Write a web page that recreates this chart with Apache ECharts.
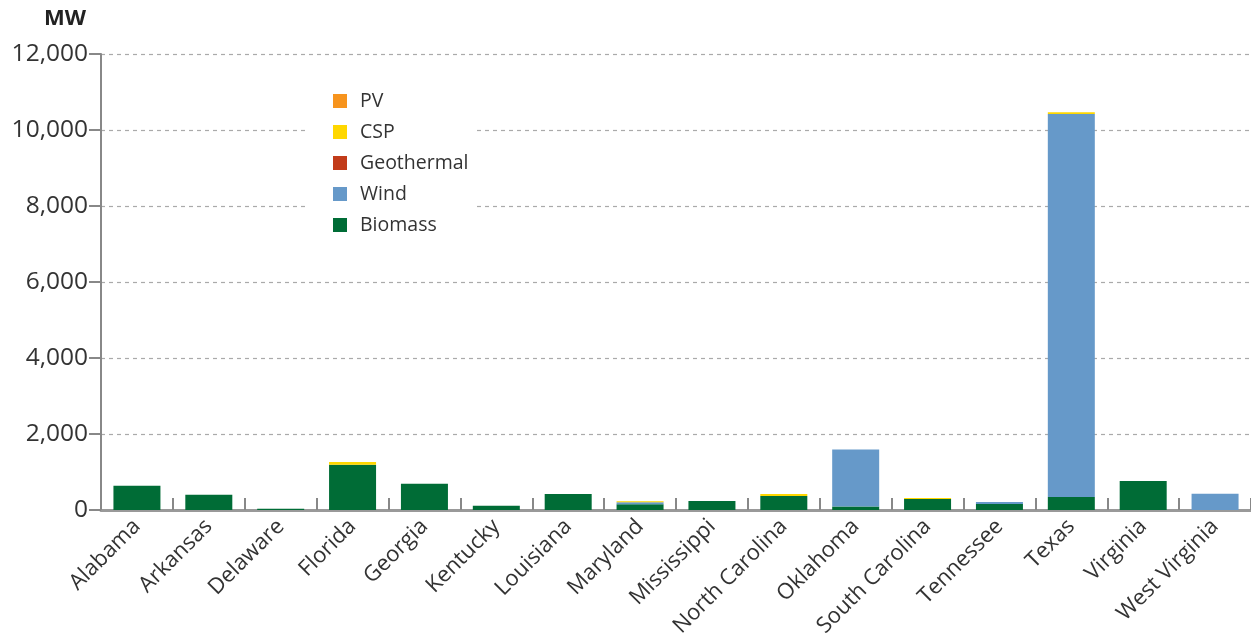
<!DOCTYPE html>
<html>
<head>
<meta charset="utf-8">
<script src="https://cdn.jsdelivr.net/npm/echarts@6/dist/echarts.min.js"></script>
<style>
html,body{margin:0;padding:0;background:#fff;}
#chart{width:1251px;height:643px;}
</style>
</head>
<body>
<div id="chart"></div>
<script>
const categories = ["Alabama","Arkansas","Delaware","Florida","Georgia","Kentucky","Louisiana","Maryland","Mississippi","North Carolina","Oklahoma","South Carolina","Tennessee","Texas","Virginia","West Virginia"];
const biomass    = [640, 400, 30, 1190, 690, 110, 420, 150, 240, 370, 90, 290, 160, 340, 765, 0];
const wind       = [0, 0, 0, 0, 0, 0, 0, 55, 0, 0, 1500, 0, 50, 10080, 0, 425];
const geothermal = [0, 0, 0, 0, 0, 0, 0, 0, 0, 0, 0, 0, 0, 0, 0, 0];
const csp        = [0, 0, 0, 75, 0, 0, 0, 25, 0, 50, 0, 25, 0, 50, 0, 0];
const pv         = [0, 0, 0, 0, 0, 0, 0, 0, 0, 0, 0, 0, 0, 0, 0, 0];
const yTicks     = [0, 2000, 4000, 6000, 8000, 10000, 12000];

const FONT = '"Open Sans", "Noto Sans", sans-serif';
const chart = echarts.init(document.getElementById('chart'));

function s(name, data, color){
  return {name, type:'bar', stack:'total', data, barWidth:47,
    itemStyle:{color}, emphasis:{disabled:true}};
}

chart.setOption({
  animation:false,
  textStyle:{fontFamily:FONT},
  title:{text:'MW', left:39, top:3,
    textStyle:{fontFamily:FONT, fontSize:22, fontWeight:'bold', color:'#222'}},
  legend:{
    orient:'vertical', left:305, top:76,
    data:['PV','CSP','Geothermal','Wind','Biomass'],
    backgroundColor:'#fff',
    padding:[15,8,12,28],
    itemWidth:14, itemHeight:14, itemGap:11, icon:'rect',
    textStyle:{fontFamily:FONT, fontSize:19.5, color:'#333', lineHeight:20, padding:[0,0,0,8]}
  },
  grid:{left:101, top:54, width:1157, height:456, containLabel:false},
  xAxis:{
    type:'category', data:categories,
    axisLine:{lineStyle:{color:'#999', width:3}},
    axisTick:{show:true, inside:true, length:12, lineStyle:{color:'#888', width:2}},
    axisLabel:{rotate:45, fontSize:22, color:'#333', fontFamily:FONT, margin:13, interval:0}
  },
  yAxis:{
    type:'value', min:yTicks[0], max:yTicks[yTicks.length-1], interval:2000,
    axisLine:{show:true, lineStyle:{color:'#888', width:2}},
    axisTick:{show:true, length:12, lineStyle:{color:'#888', width:2}},
    axisLabel:{fontSize:24.5, color:'#333', fontFamily:FONT, margin:13,
      formatter:v=>v.toLocaleString('en-US')},
    splitLine:{show:true, lineStyle:{color:'#aaa', type:[4,4], width:1.2}}
  },
  series:[
    s('Biomass', biomass, '#006C36'),
    s('Wind', wind, '#6699C9'),
    s('Geothermal', geothermal, '#C23B1A'),
    s('CSP', csp, '#FFD700'),
    s('PV', pv, '#F7941D')
  ]
});
</script>
</body>
</html>
